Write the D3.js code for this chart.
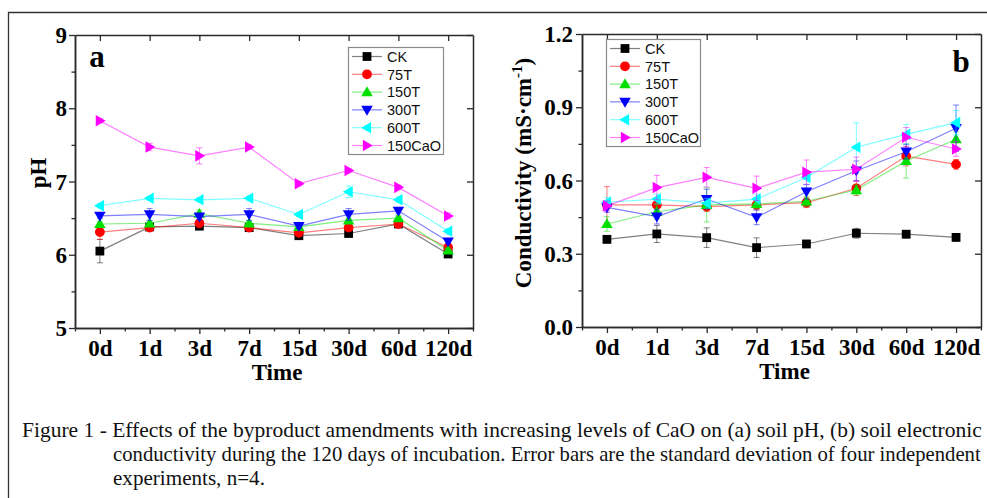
<!DOCTYPE html>
<html>
<head>
<meta charset="utf-8">
<script src="https://cdn.jsdelivr.net/npm/d3@7/dist/d3.min.js"></script>
<style>
body { margin:0; background:#fff; }
svg { display:block; }
</style>
</head>
<body>
<div id="chart"></div>
<script>

// categories and series names
var days = ['0d','1d','3d','7d','15d','30d','60d','120d'];
var seriesNames = ['CK','75T','150T','300T','600T','150CaO'];
var seriesColors = ['#000000','#ff0000','#00e000','#0000ff','#00ffff','#ff00ff'];
var seriesShapes = ['square','circle','up','down','left','right'];

// panel a : pH
var phCK     = [6.05,6.38,6.39,6.37,6.26,6.29,6.42,6.01];
var ph75T    = [6.31,6.37,6.43,6.37,6.30,6.37,6.42,6.10];
var ph150T   = [6.42,6.43,6.56,6.43,6.38,6.47,6.50,6.06];
var ph300T   = [6.53,6.55,6.52,6.55,6.39,6.55,6.60,6.18];
var ph600T   = [6.67,6.77,6.75,6.77,6.55,6.86,6.75,6.32];
var ph150CaO = [7.83,7.47,7.35,7.47,6.97,7.15,6.92,6.53];

var phErrCK     = [0.16,0.02,0.03,0.02,0.03,0.03,0.02,0.02];
var phErr75T    = [0.10,0.02,0.03,0.02,0.03,0.03,0.02,0.02];
var phErr150T   = [0.03,0.03,0.05,0.03,0.03,0.03,0.03,0.02];
var phErr300T   = [0.03,0.08,0.04,0.08,0.03,0.08,0.04,0.03];
var phErr600T   = [0.03,0.03,0.03,0.03,0.03,0.08,0.04,0.04];
var phErr150CaO = [0.03,0.05,0.11,0.03,0.03,0.03,0.03,0.04];

// panel b : conductivity
var ecCK     = [0.359,0.381,0.366,0.325,0.340,0.384,0.380,0.367];
var ec75T    = [0.500,0.500,0.493,0.500,0.509,0.568,0.700,0.666];
var ec150T   = [0.422,0.472,0.500,0.504,0.515,0.561,0.680,0.769];
var ec300T   = [0.490,0.452,0.524,0.449,0.554,0.640,0.718,0.814];
var ec600T   = [0.511,0.524,0.507,0.524,0.612,0.736,0.789,0.837];
var ec150CaO = [0.496,0.571,0.613,0.568,0.634,0.646,0.777,0.729];

var ecErrCK     = [0.015,0.035,0.040,0.040,0.015,0.020,0.015,0.015];
var ecErr75T    = [0.075,0.030,0.020,0.020,0.020,0.030,0.040,0.020];
var ecErr150T   = [0.030,0.030,0.070,0.020,0.020,0.020,0.070,0.030];
var ecErr300T   = [0.020,0.030,0.040,0.030,0.030,0.040,0.030,0.095];
var ecErr600T   = [0.020,0.020,0.020,0.020,0.030,0.100,0.040,0.050];
var ecErr150CaO = [0.020,0.050,0.040,0.050,0.050,0.050,0.040,0.030];

var phTicks = [5,6,7,8,9];
var ecTicks = [0.0,0.3,0.6,0.9,1.2];

var caption = [
	'Figure 1 - Effects of the byproduct amendments with increasing levels of CaO on (a) soil pH, (b) soil electronic',
	'conductivity during the 120 days of incubation. Error bars are the standard deviation of four independent',
	'experiments, n=4.'
];

var W=987, H=498;
var serif='"Liberation Serif","Times New Roman",Times,serif';
var sans='"Liberation Sans",Arial,Helvetica,sans-serif';
var axisColor='#2a2a2a';

var svg=d3.select('#chart').append('svg').attr('width',W).attr('height',H);
svg.append('rect').attr('width',W).attr('height',H).attr('fill','#fff');

// outer frame (only top and left visible)
svg.append('path').attr('d','M8.5,498 V12.5 H987').attr('fill','none')
	.attr('stroke','#333').attr('stroke-width',1.3);

function markerPath(shape, s) {
	var h=s/2;
	if (shape=='square') return 'M'+(-h*0.8)+','+(-h*0.8)+'h'+(s*0.8)+'v'+(s*0.8)+'h'+(-s*0.8)+'Z';
	if (shape=='circle') return d3.symbol(d3.symbolCircle, s*s*0.62)();
	if (shape=='up') return 'M0,'+(-h*1.05)+'L'+h*1.05+','+h*0.75+'L'+(-h*1.05)+','+h*0.75+'Z';
	if (shape=='down') return 'M0,'+(h*1.05)+'L'+h*1.05+','+(-h*0.75)+'L'+(-h*1.05)+','+(-h*0.75)+'Z';
	if (shape=='left') return 'M'+(-h*1.05)+',0L'+h*0.75+','+(-h*1.05)+'L'+h*0.75+','+h*1.05+'Z';
	return 'M'+(h*1.05)+',0L'+(-h*0.75)+','+(-h*1.05)+'L'+(-h*0.75)+','+h*1.05+'Z';
}

function drawPanel(p) {
	var x=d3.scaleLinear().domain([-0.5,7.5]).range([p.left,p.right]);
	var y=d3.scaleLinear().domain(p.ydomain).range([p.bottom,p.top]);
	var g=svg.append('g');
	var idx=d3.range(days.length);
	var halves=d3.range(days.length-1).map(function(i){return i+0.5;}).concat([-0.5,7.5]);
	var step=p.ticks[1]-p.ticks[0];
	var yminor=p.ticks.slice(0,-1).map(function(t){return t+step/2;});

	// series
	for (var s=0; s<p.series.length; s++) {
		var vals=p.series[s], errs=p.errors[s], col=seriesColors[s];
		var pts=idx.map(function(i){return [x(i),y(vals[i]),y(vals[i]+errs[i]),y(vals[i]-errs[i])];});
		var sg=g.append('g');
		sg.selectAll('line.err').data(pts).enter().append('line')
			.attr('x1',function(d){return d[0];}).attr('x2',function(d){return d[0];})
			.attr('y1',function(d){return d[2];}).attr('y2',function(d){return d[3];})
			.attr('stroke',col).attr('stroke-opacity',0.5).attr('stroke-width',1);
		sg.selectAll('path.cap').data(pts).enter().append('path')
			.attr('d',function(d){return 'M'+(d[0]-3)+','+d[2]+'h6M'+(d[0]-3)+','+d[3]+'h6';})
			.attr('stroke',col).attr('stroke-opacity',0.5).attr('stroke-width',1);
		sg.append('path').datum(pts)
			.attr('d',d3.line().x(function(d){return d[0];}).y(function(d){return d[1];}))
			.attr('fill','none').attr('stroke',col).attr('stroke-opacity',0.5).attr('stroke-width',1.2);
		sg.selectAll('path.mk').data(pts).enter().append('path')
			.attr('transform',function(d){return 'translate('+d[0]+','+d[1]+')';})
			.attr('d',markerPath(seriesShapes[s],11)).attr('fill',col);
	}

	// axes
	function styleAxis(a) {
		a.select('.domain').attr('stroke',axisColor).attr('stroke-width',1.5);
		a.selectAll('.tick line').attr('stroke',axisColor).attr('stroke-width',1.3);
	}
	var bx=g.append('g').attr('transform','translate(0,'+p.bottom+')')
		.call(d3.axisBottom(x).tickValues(idx).tickFormat(function(i){return days[i];}).tickSize(6).tickSizeOuter(0));
	bx.selectAll('text').attr('y',28).attr('dy',0)
		.attr('font-family',serif).attr('font-weight','bold').attr('font-size',23).attr('fill','#000');
	styleAxis(bx);
	var bxm=g.append('g').attr('transform','translate(0,'+p.bottom+')')
		.call(d3.axisBottom(x).tickValues(halves).tickFormat('').tickSize(3.5).tickSizeOuter(0));
	styleAxis(bxm);
	var tx=g.append('g').attr('transform','translate(0,'+p.top+')')
		.call(d3.axisBottom(x).tickValues(idx).tickFormat('').tickSize(6).tickSizeOuter(0));
	styleAxis(tx);

	var ly=g.append('g').attr('transform','translate('+p.left+',0)')
		.call(d3.axisLeft(y).tickValues(p.ticks).tickFormat(p.fmt).tickSize(6).tickSizeOuter(0));
	ly.selectAll('text').attr('x',-p.labelGap).attr('dy','0.33em')
		.attr('font-family',serif).attr('font-weight','bold').attr('font-size',23).attr('fill','#000');
	styleAxis(ly);
	var lym=g.append('g').attr('transform','translate('+p.left+',0)')
		.call(d3.axisLeft(y).tickValues(yminor).tickFormat('').tickSize(3.5).tickSizeOuter(0));
	styleAxis(lym);
	var ry=g.append('g').attr('transform','translate('+p.right+',0)')
		.call(d3.axisLeft(y).tickValues(p.ticks).tickFormat('').tickSize(6).tickSizeOuter(0));
	styleAxis(ry);

	// x title
	g.append('text').attr('x',(p.left+p.right)/2+3).attr('y',p.bottom+52)
		.attr('text-anchor','middle').attr('font-family',serif).attr('font-weight','bold')
		.attr('font-size',23).text('Time');

	// y title
	var yt=g.append('text').attr('transform','translate('+p.ytitleX+','+p.ytitleY+') rotate(-90)')
		.attr('text-anchor','middle').attr('font-family',serif).attr('font-weight','bold').attr('font-size',23);
	yt.append('tspan').text(p.ytitle);
	if (p.ysup) {
		yt.append('tspan').attr('dy',-9).attr('font-size',15).text(p.ysup);
		yt.append('tspan').attr('dy',9).text(')');
	}

	// panel letter
	g.append('text').attr('x',p.letterX).attr('y',p.letterY).attr('text-anchor','middle')
		.attr('font-family',serif).attr('font-weight','bold').attr('font-size',31).text(p.letter);

	// legend
	var lg=g.append('g');
	lg.append('rect').attr('x',p.legX+0.5).attr('y',p.legY+0.5).attr('width',p.legW).attr('height',p.legH)
		.attr('fill','#fff').attr('stroke','#8a8a8a').attr('stroke-width',1.2);
	for (var k=0; k<seriesNames.length; k++) {
		var ry0=p.legY+9.5+k*17.8;
		lg.append('line').attr('x1',p.legX+4).attr('x2',p.legX+34).attr('y1',ry0).attr('y2',ry0)
			.attr('stroke',seriesColors[k]).attr('stroke-opacity',0.5).attr('stroke-width',1.2);
		lg.append('path').attr('transform','translate('+(p.legX+19)+','+ry0+')')
			.attr('d',markerPath(seriesShapes[k],11)).attr('fill',seriesColors[k]);
		lg.append('text').attr('x',p.legX+39).attr('y',ry0+5.2)
			.attr('font-family',sans).attr('font-size',14.5).attr('fill','#111').text(seriesNames[k]);
	}
}

drawPanel({
	left:75, right:473, top:35, bottom:328,
	ydomain:[5,9], ticks:phTicks, fmt:d3.format('d'), labelGap:8,
	series:[phCK,ph75T,ph150T,ph300T,ph600T,ph150CaO],
	errors:[phErrCK,phErr75T,phErr150T,phErr300T,phErr600T,phErr150CaO],
	ytitle:'pH', ysup:null, ytitleX:46, ytitleY:173,
	letter:'a', letterX:97, letterY:67,
	legX:348, legY:47, legW:95, legH:107
});

drawPanel({
	left:582, right:981, top:34, bottom:327,
	ydomain:[0,1.2], ticks:ecTicks, fmt:d3.format('.1f'), labelGap:9,
	series:[ecCK,ec75T,ec150T,ec300T,ec600T,ec150CaO],
	errors:[ecErrCK,ecErr75T,ecErr150T,ecErr300T,ecErr600T,ecErr150CaO],
	ytitle:'Conductivity (mS·cm', ysup:'-1', ytitleX:531, ytitleY:173,
	letter:'b', letterX:961, letterY:72,
	legX:606, legY:39, legW:94, legH:107
});

// caption: fit each line to its printed width
var capLines=[[22,437,960],[113,461,868],[113,485,152]];
var cap=svg.append('g').attr('font-family',serif).attr('font-size',21).attr('fill','#111');
capLines.forEach(function(c,i){
	var t=cap.append('text').attr('x',0).attr('y',0).text(caption[i]);
	var w=t.node().getComputedTextLength();
	t.attr('transform','translate('+c[0]+','+c[1]+') scale('+(c[2]/w)+',1)');
});

</script>
</body>
</html>
